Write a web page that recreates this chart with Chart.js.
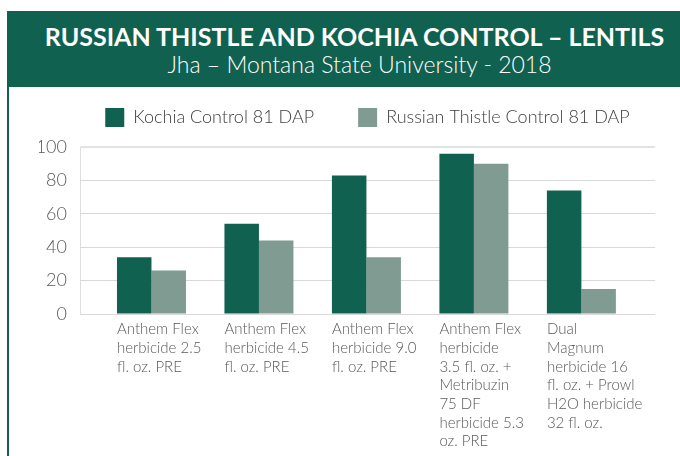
<!DOCTYPE html>
<html>
<head>
<meta charset="UTF-8">
<title>Russian Thistle and Kochia Control - Lentils</title>
<script src="https://cdn.jsdelivr.net/npm/chart.js@4.4.1/dist/chart.umd.min.js"></script>
<style>
  html, body { margin: 0; padding: 0; background: #fff; }
  #page { position: relative; width: 680px; height: 456px; overflow: hidden; }
  #header { position: absolute; left: 7px; top: 11px; width: 673px; height: 76px; background: #10614f; color: #fff; }
  #header div { position: absolute; left: 22px; right: 0; text-align: center; white-space: nowrap;
                font-family: Lato, "Liberation Sans", sans-serif; }
  #title { top: 13px; font-size: 25px; line-height: 25px; font-weight: bold; }
  #subtitle { top: 42px; padding-left: 10px; font-size: 23px; line-height: 23px; font-weight: 300; }
  #rule { position: absolute; left: 7px; top: 87px; width: 2px; height: 369px; background: #10614f; }
  #chart { position: absolute; left: 0; top: 0; }
</style>
</head>
<body>
<div id="page">
  <canvas id="chart" width="680" height="456"></canvas>
  <div id="header">
    <div id="title">RUSSIAN THISTLE AND KOCHIA CONTROL – LENTILS</div>
    <div id="subtitle">Jha – Montana State University - 2018</div>
  </div>
  <div id="rule"></div>
</div>

<script>
// treatments, one array of lines per bar group
const categories = [
   ["Anthem Flex", "herbicide 2.5", "fl. oz. PRE"],
   ["Anthem Flex", "herbicide 4.5", "fl. oz. PRE"],
   ["Anthem Flex", "herbicide 9.0", "fl. oz. PRE"],
   ["Anthem Flex", "herbicide", "3.5 fl. oz. +", "Metribuzin", "75 DF", "herbicide 5.3", "oz. PRE"],
   ["Dual", "Magnum", "herbicide 16", "fl. oz. + Prowl", "H2O herbicide", "32 fl. oz."]
];
const seriesNames = ["Kochia Control 81 DAP", "Russian Thistle Control 81 DAP"];
const kochia = [34, 54, 83, 96, 74];
const russianThistle = [26, 44, 34, 90, 15];
const yTicks = [0, 20, 40, 60, 80, 100];

const dark = "#10614f";
const light = "#809b91";
const textColor = "#595959";
const face = "Lato, 'Liberation Sans', sans-serif";

const toPoints = values => values.map((v, i) => ({x: i + 1, y: v}));

// legend sits lower and a bit right of centre, like the original
const legendPlace = {
   id: "legendPlace",
   beforeInit(chart) {
      const fit = chart.legend.fit;
      chart.legend.fit = function () {
         fit.call(this);
         this.height += 10;
      };
   },
   afterLayout(chart) {
      chart.legend.left += 20.5;
      chart.legend.right += 20.5;
   }
};

new Chart(document.getElementById("chart"), {
   type: "bar",
   data: {
      datasets: [
         {label: seriesNames[0], data: toPoints(kochia), backgroundColor: dark, borderWidth: 0},
         {label: seriesNames[1], data: toPoints(russianThistle), backgroundColor: light, borderWidth: 0}
      ]
   },
   options: {
      responsive: false,
      animation: false,
      categoryPercentage: 0.642,
      barPercentage: 1.0,
      layout: {padding: {top: 64, left: 39, right: 25, bottom: 0}},
      plugins: {
         title: {display: false},
         tooltip: {enabled: false},
         legend: {
            position: "top",
            labels: {
               boxWidth: 19, boxHeight: 19, padding: 44,
               color: "#404040",
               font: {family: face, size: 18, weight: "300"}
            }
         }
      },
      scales: {
         x: {
            type: "linear",
            offset: false,
            min: 0.335,
            max: 5.685,
            afterBuildTicks: axis => { axis.ticks = categories.map((c, i) => ({value: i + 1})); },
            afterFit: axis => { axis.height = 142; axis.paddingLeft = 0; axis.paddingRight = 0; },
            grid: {display: false, drawTicks: false},
            border: {display: false},
            ticks: {
               autoSkip: false, maxRotation: 0, minRotation: 0,
               align: "start", labelOffset: -34.5, padding: 6,
               color: textColor,
               font: {family: face, size: 15, weight: "300", lineHeight: 1.247},
               callback: value => categories[value - 1]
            }
         },
         y: {
            min: 0, max: 100,
            afterBuildTicks: axis => { axis.ticks = yTicks.map(v => ({value: v})); },
            afterFit: axis => { axis.width = 41; },
            grid: {
               drawTicks: false,
               color: ctx => ctx.tick && ctx.tick.value === 100 ? "#e2e2e2" : "#d9d9d9",
               lineWidth: ctx => ctx.tick && ctx.tick.value === 100 ? 2 : 1
            },
            border: {display: true, color: "#dedede", width: 1},
            ticks: {
               autoSkip: false,
               padding: 13,
               color: textColor,
               font: {family: face, size: 18, weight: "300"}
            }
         }
      }
   },
   plugins: [legendPlace]
});
</script>
</body>
</html>
